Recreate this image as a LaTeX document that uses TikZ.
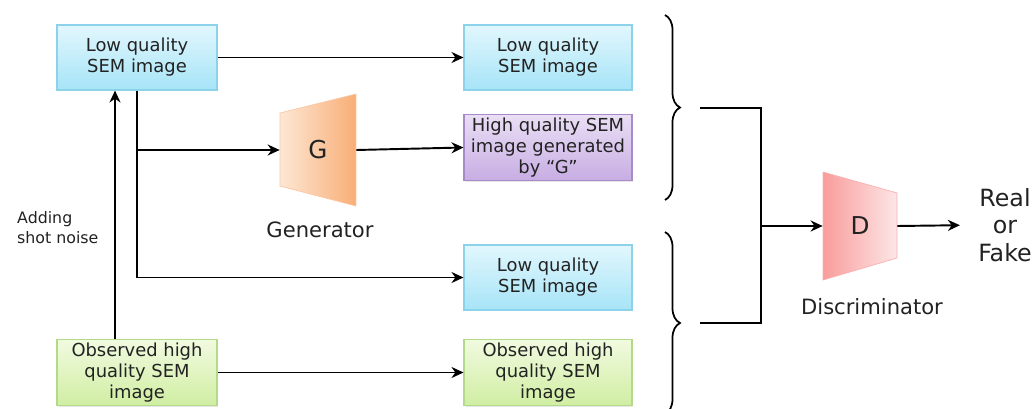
\documentclass[tikz,border=0pt]{standalone}
\usepackage{fontspec}
\setmainfont{DejaVu Sans}
\definecolor{BlueTop}{HTML}{E2F7FD}
\definecolor{BlueBottom}{HTML}{A6E4F7}
\definecolor{BlueLine}{HTML}{8CD2EA}
\definecolor{PurpleTop}{HTML}{EADFF5}
\definecolor{PurpleBottom}{HTML}{C7ADE3}
\definecolor{PurpleLine}{HTML}{A78AC8}
\definecolor{GreenTop}{HTML}{F1FAE0}
\definecolor{GreenBottom}{HTML}{D0EEA2}
\definecolor{GreenLine}{HTML}{B3D98A}
\definecolor{GenLight}{HTML}{FDE7D4}
\definecolor{GenDark}{HTML}{F8AE76}
\definecolor{DiscDark}{HTML}{F99C9C}
\definecolor{DiscLight}{HTML}{FDE6E6}
\definecolor{TextGray}{HTML}{222222}
\usetikzlibrary{arrows.meta, positioning, decorations.pathreplacing, shadows}
\tikzset{
  box/.style={draw=BlueLine, line width=0.6pt, top color=BlueTop, bottom color=BlueBottom, align=center, minimum width=3.2cm, minimum height=1.3cm, inner sep=2pt, text=TextGray, font=\fontsize{10.2}{12}\selectfont, drop shadow={opacity=0.18, shadow xshift=0.6pt, shadow yshift=-0.6pt}},
  purplebox/.style={box, draw=PurpleLine, top color=PurpleTop, bottom color=PurpleBottom},
  greenbox/.style={box, draw=GreenLine, top color=GreenTop, bottom color=GreenBottom},
  arrow/.style={-{Stealth[length=2.4mm, width=2.2mm]}, line width=1.1pt},
  plainline/.style={line width=1.1pt},
  bracket/.style={decorate, decoration={brace, amplitude=0.3cm}, line width=1pt}
}

\begin{document}
\begin{tikzpicture}[x=0.02cm, y=-0.02cm,
  caption/.style={text=TextGray, font=\fontsize{12}{14}\selectfont},
  block/.style={inner sep=0pt, minimum height=1.5cm, text=TextGray, font=\fontsize{14}{16}\selectfont}
]
\useasboundingbox (0,0) rectangle (1035,409);

% left column
\node[box] (lowA) at (137,57.5) {Low quality\\SEM image};
\node[greenbox] (obsA) at (137,372.5) {Observed high\\quality SEM\\image};
\node[anchor=west, align=left, text=TextGray, font=\fontsize{9}{11.3}\selectfont] (noise) at (11,228) {Adding\\shot noise};

% generator
\shade[left color=GenLight, right color=GenDark, draw=GenDark!70, line width=0.4pt]
  (280,113) -- (356,94) -- (356,206) -- (280,186) -- cycle;
\node[block, minimum width=1.52cm] (gen) at (318,150) {G};
\node[caption] (genlabel) at (320,230) {Generator};

% right column
\node[box, minimum width=3.36cm] (lowB) at (548,57.5) {Low quality\\SEM image};
\node[purplebox, minimum width=3.36cm] (fake) at (548,147.5) {High quality SEM\\image generated\\by “G”};
\node[box, minimum width=3.36cm] (lowC) at (548,277.5) {Low quality\\SEM image};
\node[greenbox, minimum width=3.36cm] (obsB) at (548,372.5) {Observed high\\quality SEM\\image};

% discriminator
\shade[left color=DiscDark, right color=DiscLight, draw=DiscDark!80, line width=0.4pt]
  (823,172) -- (897,193) -- (897,258) -- (823,280) -- cycle;
\node[block, minimum width=1.48cm] (disc) at (860,226) {D};
\node[caption] (disclabel) at (872,307) {Discriminator};
\node[align=center, inner sep=0pt, text=TextGray, font=\fontsize{13.5}{15.5}\selectfont] (out) at (1005,225) {Real\\or\\Fake};

% braces and merge
\draw[bracket] (665,15) -- (665,200);
\draw[bracket] (665,232) -- (665,414);
\coordinate (joinA) at (700,108);
\coordinate (joinB) at (700,323);
\coordinate (merge) at (761,226);
\draw[plainline] (joinA) -| (merge) |- (joinB);

% connectors
\draw[arrow] (lowA) -- (lowB);
\draw[arrow] (lowA.south) |- (lowC.west);
\draw[arrow] (lowA.south |- gen.west) -- (gen.west);
\draw[arrow] (gen.east) -- (fake.west);
\draw[arrow] ([xshift=-0.44cm]obsA.north) -- ([xshift=-0.44cm]lowA.south);
\draw[arrow] (obsA) -- (obsB);
\draw[arrow] (merge) -- (disc.west);
\draw[arrow, shorten >=0.36cm] (disc.east) -- (out.west);
\end{tikzpicture}
\end{document}
